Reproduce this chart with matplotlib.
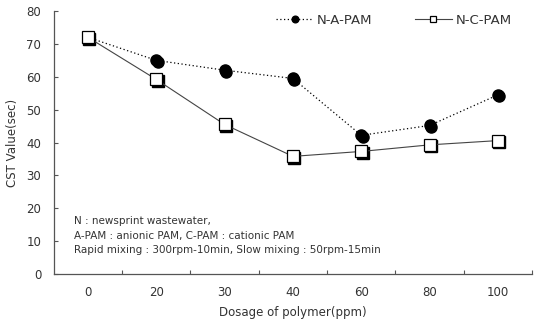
import matplotlib
matplotlib.use('Agg')
import matplotlib.pyplot as plt
import matplotlib.transforms as mtransforms

# Dosage levels (ppm) and CST values (sec)
dosage = ['0', '20', '30', '40', '60', '80', '100']
cst_apam = [72, 65, 62, 59.5, 42.2, 45.2, 54.5]
cst_cpam = [72, 59.2, 45.5, 35.8, 37.3, 39.3, 40.6]

plt.rcParams['font.family'] = ['DejaVu Sans']
plt.rcParams['font.size'] = 8
text_color = '#333333'

fig = plt.figure(figsize=(5.38, 3.24), dpi=100)
ax = fig.add_axes([0.100, 0.154, 0.889, 0.812])

x = list(range(len(dosage)))

# shadow copies of the markers, shifted down-right
shadow = mtransforms.offset_copy(ax.transData, fig=fig, x=1.5, y=-1.5, units='dots')
ax.plot(x, cst_apam, linestyle='none', marker='o', markersize=8,
        color='black', transform=shadow, zorder=2)
ax.plot(x, cst_cpam, linestyle='none', marker='s', markersize=8,
        color='black', transform=shadow, zorder=4)

ax.plot(x, cst_apam, linestyle=(0, (1, 2)), linewidth=0.9, color='black',
        marker='o', markersize=8, markerfacecolor='black',
        markeredgecolor='black', label='N-A-PAM', zorder=3)
ax.plot(x, cst_cpam, linestyle='-', linewidth=0.8, color='#444444',
        marker='s', markersize=8, markerfacecolor='white',
        markeredgecolor='black', markeredgewidth=0.9,
        label='N-C-PAM', zorder=5)

ax.set_xlim(-0.5, len(dosage) - 0.5)
ax.set_ylim(0, 80)
ax.set_yticks(range(0, 81, 10))

# category labels centred, tick marks on the boundaries
ax.set_xticks([i + 0.5 for i in x[:-1]] + [len(dosage) - 0.5])
ax.set_xticklabels([])
ax.set_xticks(x, minor=True)
ax.set_xticklabels(dosage, minor=True, color=text_color, fontsize=8.5)
ax.tick_params(axis='x', which='minor', length=0, pad=8.5)
ax.tick_params(axis='x', which='major', direction='in', length=3, color='#555555')
ax.tick_params(axis='y', direction='in', length=3, color='#555555',
               labelcolor=text_color, labelsize=8.5, pad=9)

for side in ['top', 'right']:
    ax.spines[side].set_visible(False)
for side in ['left', 'bottom']:
    ax.spines[side].set_color('#555555')
    ax.spines[side].set_linewidth(0.9)

ax.set_xlabel('Dosage of polymer(ppm)', color=text_color, fontsize=8.5, labelpad=5)
ax.set_ylabel('CST Value(sec)', color=text_color, fontsize=8.5)
ax.yaxis.set_label_coords(-0.072, 0.5)

notes = ('N : newsprint wastewater,\n'
         'A-PAM : anionic PAM, C-PAM : cationic PAM\n'
         'Rapid mixing : 300rpm-10min, Slow mixing : 50rpm-15min')
ax.text(0.043, 0.22, notes, transform=ax.transAxes, fontsize=7.5,
        color=text_color, va='top', linespacing=1.55)

leg = ax.legend(loc='upper left', bbox_to_anchor=(0.44, 1.035), ncol=2,
                frameon=False, fontsize=9.5, handlelength=2.8,
                handletextpad=0.3, columnspacing=3.2, markerscale=0.6)
for t in leg.get_texts():
    t.set_color(text_color)

fig.savefig('out.png', dpi=100)
